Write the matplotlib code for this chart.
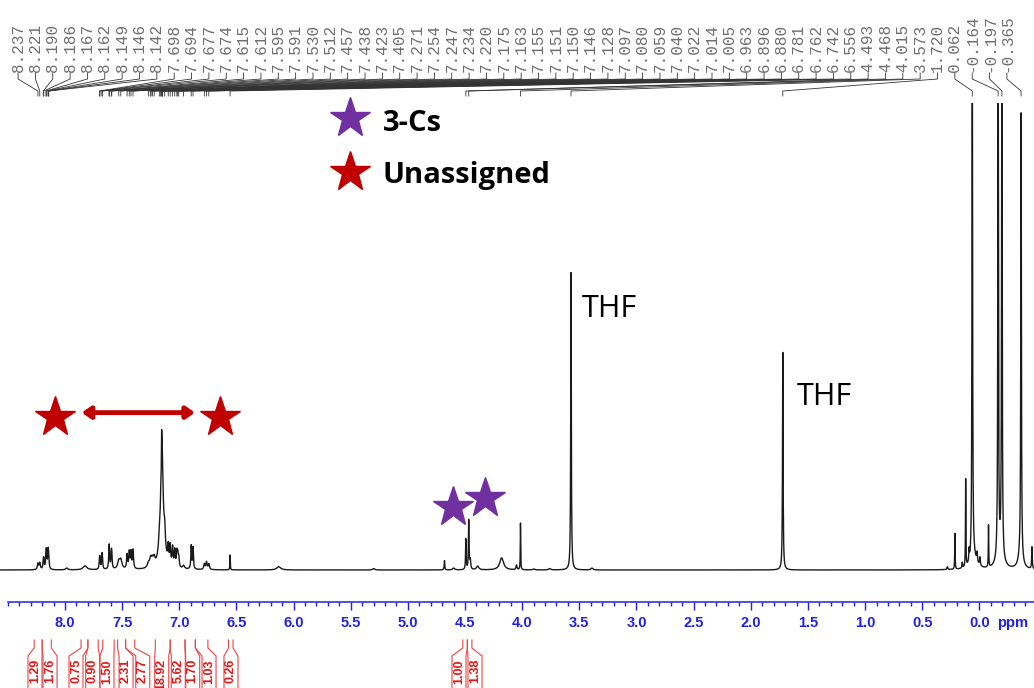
import numpy as np
import matplotlib
matplotlib.use("Agg")
import matplotlib.pyplot as plt
import matplotlib.transforms as mtransforms
from matplotlib.ticker import MultipleLocator

# peaks: position (ppm), height (clipped peaks = 100), half width (ppm)
peak_ppm = [8.237, 8.221, 8.190, 8.186, 8.167, 8.162, 8.149, 8.146, 8.142, 7.985, 7.825,
            7.698, 7.694, 7.677, 7.674, 7.615, 7.612, 7.595, 7.591, 7.530, 7.512,
            7.457, 7.438, 7.423, 7.405, 7.271, 7.254, 7.247, 7.234, 7.220,
            7.175, 7.163, 7.155, 7.151, 7.150, 7.146, 7.128, 7.097, 7.080, 7.059, 7.040,
            7.022, 7.014, 7.005, 6.963, 6.896, 6.880, 6.781, 6.762, 6.742, 6.556, 6.13, 5.30,
            4.68, 4.60, 4.493, 4.468, 4.455, 4.39, 4.18, 4.05, 4.015, 3.90, 3.76, 3.573, 3.39,
            1.720, 0.28, 0.214, 0.15, 0.12, 0.09, 0.062, 0.05, 0.02, -0.005, -0.08,
            -0.164, -0.197, -0.18, -0.365, -0.36, -0.46]
peak_height = [1.3, 1.4, 1.6, 1.6, 3.0, 3.0, 2.5, 2.0, 1.5, 0.4, 0.85,
               2.0, 1.6, 2.2, 1.8, 3.2, 2.8, 2.8, 2.5, 1.6, 1.9,
               3.0, 3.5, 3.5, 4.0, 0.9, 1.1, 1.1, 1.3, 1.5,
               2.2, 4.0, 11.0, 6.0, 15.0, 5.0, 3.5, 3.5, 4.0, 4.0, 3.5,
               3.0, 2.5, 2.0, 0.7, 5.0, 4.6, 1.2, 1.6, 1.2, 3.2, 0.7, 0.3,
               2.0, 0.4, 6.5, 10.5, 2.0, 0.8, 2.6, 1.0, 10.0, 0.2, 0.3, 63.8, 0.4,
               46.7, 0.6, 7.7, 1.2, 18.8, 2.5, 120.0, 2.5, 2.0, 1.8, 9.0,
               120.0, 120.0, 3.0, 95.0, 3.0, 4.7]
peak_width = [0.006, 0.006, 0.004, 0.004, 0.004, 0.004, 0.004, 0.004, 0.004, 0.01, 0.02,
              0.004, 0.004, 0.004, 0.004, 0.004, 0.004, 0.004, 0.004, 0.012, 0.012,
              0.005, 0.005, 0.005, 0.005, 0.01, 0.01, 0.008, 0.008, 0.008,
              0.008, 0.005, 0.003, 0.003, 0.02, 0.004, 0.006, 0.005, 0.005, 0.005, 0.005,
              0.005, 0.005, 0.005, 0.01, 0.004, 0.004, 0.006, 0.006, 0.006, 0.002, 0.02, 0.01,
              0.003, 0.01, 0.003, 0.003, 0.005, 0.012, 0.02, 0.005, 0.002, 0.01, 0.01, 0.003, 0.01,
              0.003, 0.004, 0.002, 0.003, 0.002, 0.003, 0.003, 0.03, 0.004, 0.004, 0.002,
              0.003, 0.003, 0.03, 0.003, 0.02, 0.003]

# peak picking labels shown along the top
shift_labels = ["8.237", "8.221", "8.190", "8.186", "8.167", "8.162", "8.149", "8.146", "8.142",
                "7.698", "7.694", "7.677", "7.674", "7.615", "7.612", "7.595", "7.591", "7.530",
                "7.512", "7.457", "7.438", "7.423", "7.405", "7.271", "7.254", "7.247", "7.234",
                "7.220", "7.175", "7.163", "7.155", "7.151", "7.150", "7.146", "7.128", "7.097",
                "7.080", "7.059", "7.040", "7.022", "7.014", "7.005", "6.963", "6.896", "6.880",
                "6.781", "6.762", "6.742", "6.556", "4.493", "4.468", "4.015", "3.573", "1.720",
                "0.062", "-0.164", "-0.197", "-0.365"]

# integrals: value, region start/end (ppm), label position (ppm)
integral_values = ["1.29", "1.76", "0.75", "0.90", "1.50", "2.31", "2.77", "18.92", "5.62",
                   "1.70", "1.03", "0.26", "1.00", "1.38"]
integral_start = [8.27, 8.20, 7.86, 7.80, 7.67, 7.54, 7.47, 7.21, 7.08, 6.95, 6.86, 6.57, 4.52, 4.48]
integral_end = [8.20, 8.12, 7.80, 7.71, 7.57, 7.47, 7.39, 7.08, 6.95, 6.86, 6.75, 6.53, 4.48, 4.44]
integral_pos = [8.263, 8.131, 7.904, 7.758, 7.633, 7.466, 7.320, 7.154, 7.009, 6.883, 6.740,
                6.548, 4.553, 4.413]

W, H = 1034, 688
def fy(py):
    # pixel row from top -> figure fraction
    return 1 - py / H

blue = "#2020e6"
red_int = "#e84545"

fig = plt.figure(figsize=(W / 100, H / 100), dpi=100)
ax = fig.add_axes([0, 86 / H, 1, 499 / H])
ax.set_xlim(8.569, -0.478)
ax.set_ylim(-32 / 4.67, 100)

x = np.linspace(8.569, -0.478, 12000)
y = np.zeros_like(x)
for p, h, w in zip(peak_ppm, peak_height, peak_width):
    y += h * w**2 / ((x - p)**2 + w**2)
ax.plot(x, y, color="#1a1a1a", lw=1.0)

# axis styling like the NMR software
for s in ["top", "left", "right"]:
    ax.spines[s].set_visible(False)
ax.spines["bottom"].set_color(blue)
ax.spines["bottom"].set_linewidth(1.1)
ax.spines["bottom"].set_bounds(8.5, -0.478)
ax.set_yticks([])
ax.set_xticks(np.arange(0, 8.01, 0.5))
ax.set_xticklabels(["%.1f" % t for t in np.arange(0, 8.01, 0.5)])
ax.xaxis.set_minor_locator(MultipleLocator(0.1))
ax.tick_params(axis="x", which="major", length=6, width=1, color=blue, labelcolor=blue,
               pad=4, labelsize=10.5)
ax.tick_params(axis="x", which="minor", length=3, width=1, color=blue)
for lbl in ax.get_xticklabels():
    lbl.set_fontweight("bold")
    lbl.set_family("Liberation Sans")

tr = mtransforms.blended_transform_factory(ax.transData, fig.transFigure)
ax.text(-0.154, fy(623), "ppm", transform=tr, color=blue, fontsize=10.5, fontweight="bold",
        family="Liberation Sans", va="center", ha="left")

# peak labels with fan connectors
label_x = np.linspace(8.411, -0.241, len(shift_labels))
for lx, s in zip(label_x, shift_labels):
    v = float(s)
    ax.text(lx, fy(72), s, rotation=90, ha="center", va="bottom", transform=tr,
            fontsize=11.5, family="Liberation Mono", color="#6e6e6e")
    ax.plot([lx, lx, v, v], [fy(73), fy(79), fy(91), fy(96)], transform=tr,
            color="#333333", lw=0.6, clip_on=False)

# integrals below the axis
hw = 7 / 114.3
for val, a, b, c in zip(integral_values, integral_start, integral_end, integral_pos):
    ax.plot([a, a, c + hw, c + hw], [fy(640), fy(648), fy(656), fy(700)], transform=tr,
            color=red_int, lw=0.8, clip_on=False)
    ax.plot([b, b, c - hw, c - hw], [fy(640), fy(648), fy(656), fy(700)], transform=tr,
            color=red_int, lw=0.8, clip_on=False)
    ax.text(c, fy(659), val, rotation=90, ha="center", va="top", transform=tr,
            fontsize=9, fontweight="bold", family="Liberation Sans", color="#e01818")

# annotations
purple = "#7030a0"
dred = "#c00000"
ax.plot([8.087, 6.644], [32.8, 32.8], ls="none", marker="*", ms=30, color=dred, clip_on=False)
ax.annotate("", xy=(6.863, 33.7), xytext=(7.854, 33.7),
            arrowprops=dict(arrowstyle="<|-|>,head_length=0.5,head_width=0.35", color=dred, lw=3.5,
                            shrinkA=0, shrinkB=0))
ax.plot([4.603, 4.325], [13.4, 15.4], ls="none", marker="*", ms=30, color=purple, clip_on=False)

ax.text(3.479, 54.2, "THF", fontsize=22, family="Open Sans", va="baseline", ha="left")
ax.text(1.596, 35.3, "THF", fontsize=22, family="Open Sans", va="baseline", ha="left")

# legend
ax.plot([5.503], [96.7], marker="*", ms=30, color=purple, clip_on=False)
ax.plot([5.503], [85.3], marker="*", ms=30, color=dred, clip_on=False)
ax.text(5.220, 94.1, "3-Cs", fontsize=21, fontweight="bold", family="Open Sans", va="baseline", ha="left")
ax.text(5.220, 82.8, "Unassigned", fontsize=21, fontweight="bold", family="Open Sans", va="baseline", ha="left")

fig.savefig("out.png", dpi=100)
